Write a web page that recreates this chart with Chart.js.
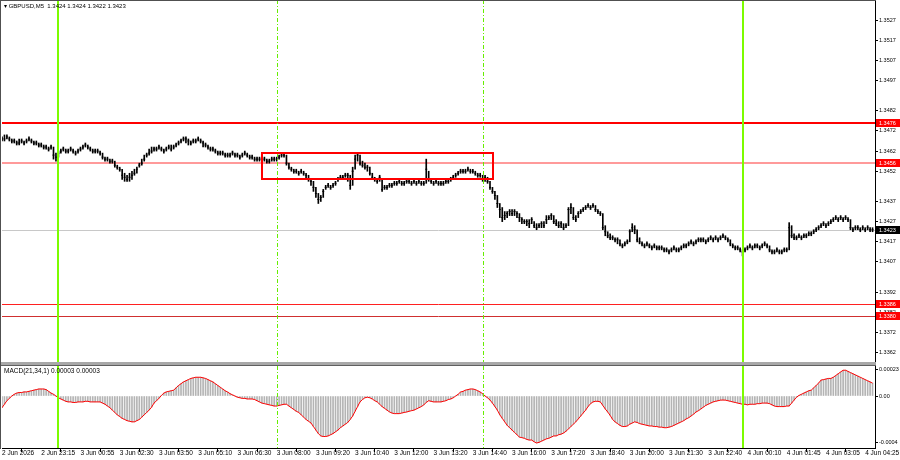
<!DOCTYPE html>
<html>
<head>
<meta charset="utf-8">
<title>GBPUSD M5</title>
<script src="https://cdn.jsdelivr.net/npm/chart.js@4.4.1/dist/chart.umd.min.js"></script>
<style>
  body { margin:0; background:#fff; width:900px; height:460px; overflow:hidden; position:relative; font-family:"Liberation Sans", Arial, sans-serif; }
  canvas { position:absolute; left:0; }
  #price { top:0; }
  #macd { top:362px; }
  .lbl { position:absolute; font-size:6.5px; color:#000; white-space:pre; line-height:8px; }
  #sep { position:absolute; left:0; top:362px; width:876px; height:3px; background:#a8a8a8; border-bottom:1px solid #606060; }
  #frameL { position:absolute; left:0; top:0; width:1px; height:449px; background:#505050; }
  #frameT { position:absolute; left:0; top:0; width:876px; height:1px; background:#505050; }
</style>
</head>
<body>
<canvas id="price" width="900" height="362"></canvas>
<canvas id="macd" width="900" height="98"></canvas>
<div id="sep"></div>
<div id="frameL"></div>
<div id="frameT"></div>
<div class="lbl" style="left:4px;top:2px;font-size:6px">▾ GBPUSD,M5  1.3424 1.3424 1.3422 1.3423</div>
<div class="lbl" style="left:4px;top:367px">MACD(21,34,1) 0.00003 0.00003</div>
<script>
// 5 minute bars, 2 Jun late evening -> 4 Jun 04:40
const highs = [
  1.3469,1.3470,1.3470,1.3469,1.3468,1.3468,1.3467,1.3468,1.3468,1.3467,1.3468,1.3469,1.3468,1.3467,1.3467,1.3466,
  1.3466,1.3465,1.3465,1.3464,1.3465,1.3464,1.3461,1.3462,1.3463,1.3464,1.3463,1.3463,1.3464,1.3463,1.3462,1.3463,
  1.3464,1.3465,1.3466,1.3465,1.3464,1.3463,1.3463,1.3463,1.3462,1.3461,1.3459,1.3459,1.3458,1.3458,1.3457,1.3455,
  1.3454,1.3453,1.3451,1.3450,1.3451,1.3452,1.3453,1.3454,1.3456,1.3458,1.3460,1.3461,1.3463,1.3464,1.3464,1.3464,
  1.3465,1.3464,1.3463,1.3464,1.3465,1.3465,1.3465,1.3466,1.3467,1.3468,1.3469,1.3469,1.3468,1.3467,1.3468,1.3468,
  1.3469,1.3468,1.3467,1.3466,1.3465,1.3464,1.3464,1.3463,1.3462,1.3462,1.3462,1.3461,1.3461,1.3461,1.3462,1.3461,
  1.3461,1.3460,1.3461,1.3462,1.3461,1.3460,1.3460,1.3459,1.3459,1.3459,1.3459,1.3459,1.3458,1.3458,1.3459,1.3459,
  1.3459,1.3460,1.3461,1.3461,1.3460,1.3456,1.3454,1.3453,1.3453,1.3452,1.3453,1.3452,1.3451,1.3450,1.3448,1.3447,
  1.3444,1.3441,1.3440,1.3443,1.3445,1.3446,1.3445,1.3446,1.3447,1.3449,1.3450,1.3450,1.3451,1.3451,1.3450,1.3454,
  1.3460,1.3461,1.3460,1.3457,1.3456,1.3455,1.3454,1.3451,1.3449,1.3448,1.3450,1.3448,1.3445,1.3445,1.3446,1.3446,
  1.3447,1.3447,1.3448,1.3447,1.3447,1.3448,1.3448,1.3447,1.3448,1.3447,1.3448,1.3447,1.3447,1.3458,1.3452,1.3448,
  1.3447,1.3448,1.3447,1.3447,1.3447,1.3448,1.3448,1.3449,1.3450,1.3451,1.3452,1.3453,1.3453,1.3453,1.3454,1.3453,
  1.3453,1.3452,1.3451,1.3451,1.3450,1.3450,1.3449,1.3447,1.3444,1.3442,1.3440,1.3436,1.3434,1.3432,1.3432,1.3433,
  1.3433,1.3433,1.3432,1.3431,1.3429,1.3428,1.3428,1.3428,1.3429,1.3427,1.3426,1.3426,1.3427,1.3427,1.3430,1.3430,
  1.3431,1.3430,1.3428,1.3427,1.3427,1.3426,1.3426,1.3434,1.3436,1.3434,1.3430,1.3432,1.3433,1.3434,1.3435,1.3436,
  1.3435,1.3436,1.3435,1.3433,1.3432,1.3431,1.3425,1.3422,1.3421,1.3420,1.3419,1.3419,1.3418,1.3416,1.3417,1.3418,
  1.3423,1.3426,1.3425,1.3423,1.3419,1.3417,1.3416,1.3417,1.3416,1.3415,1.3416,1.3415,1.3415,1.3415,1.3414,1.3414,
  1.3413,1.3414,1.3415,1.3414,1.3414,1.3415,1.3416,1.3416,1.3417,1.3418,1.3417,1.3418,1.3419,1.3419,1.3419,1.3418,
  1.3419,1.3420,1.3419,1.3420,1.3419,1.3420,1.3421,1.3420,1.3419,1.3418,1.3416,1.3415,1.3415,1.3414,1.3413,1.3414,
  1.3415,1.3416,1.3415,1.3416,1.3416,1.3415,1.3416,1.3417,1.3416,1.3415,1.3413,1.3413,1.3414,1.3413,1.3413,1.3414,
  1.3414,1.34265,1.3425,1.3421,1.3420,1.3421,1.3420,1.3421,1.3421,1.3422,1.3422,1.3423,1.3424,1.3425,1.3426,1.3427,
  1.3426,1.3427,1.3428,1.3429,1.3430,1.3429,1.3430,1.3429,1.3430,1.3429,1.3428,1.3424,1.3425,1.3425,1.3424,1.3425,
  1.3424,1.3425,1.3424,1.3424
];
const lows = [
  1.3467,1.3467,1.3468,1.3467,1.3466,1.3466,1.3465,1.3465,1.3466,1.3465,1.3466,1.3467,1.3466,1.3465,1.3465,1.3464,
  1.3464,1.3463,1.3463,1.3462,1.3463,1.3458,1.3457,1.3459,1.3461,1.3462,1.3461,1.3461,1.3462,1.3461,1.3460,1.3461,
  1.3462,1.3463,1.3464,1.3463,1.3462,1.3461,1.3461,1.3461,1.3460,1.3458,1.3457,1.3457,1.3456,1.3456,1.3454,1.3453,
  1.3452,1.3448,1.3447,1.3447,1.3447,1.3448,1.3450,1.3451,1.3454,1.3455,1.3457,1.3459,1.3460,1.3461,1.3462,1.3462,
  1.3463,1.3462,1.3461,1.3462,1.3463,1.3462,1.3463,1.3464,1.3465,1.3466,1.3467,1.3466,1.3465,1.3465,1.3466,1.3466,
  1.3467,1.3466,1.3464,1.3464,1.3463,1.3462,1.3462,1.3461,1.3460,1.3460,1.3460,1.3459,1.3459,1.3459,1.3460,1.3459,
  1.3459,1.3458,1.3459,1.3460,1.3459,1.3458,1.3458,1.3457,1.3457,1.3457,1.3457,1.3457,1.3456,1.3456,1.3457,1.3457,
  1.3457,1.3458,1.3459,1.3459,1.3455,1.3453,1.3452,1.3451,1.3451,1.3450,1.3451,1.3450,1.3448,1.3447,1.3445,1.3442,
  1.3439,1.3436,1.3437,1.3439,1.3443,1.3444,1.3443,1.3444,1.3445,1.3447,1.3448,1.3448,1.3449,1.3447,1.3443,1.3445,
  1.3453,1.3457,1.3455,1.3454,1.3453,1.3452,1.3450,1.3448,1.3447,1.3446,1.3447,1.3442,1.3443,1.3443,1.3444,1.3444,
  1.3445,1.3445,1.3446,1.3445,1.3445,1.3446,1.3446,1.3445,1.3446,1.3445,1.3446,1.3445,1.3445,1.3446,1.3447,1.3446,
  1.3445,1.3446,1.3445,1.3445,1.3445,1.3446,1.3446,1.3447,1.3448,1.3449,1.3450,1.3451,1.3451,1.3451,1.3452,1.3451,
  1.3451,1.3450,1.3449,1.3449,1.3447,1.3447,1.3446,1.3443,1.3441,1.3438,1.3434,1.3429,1.3427,1.3428,1.3429,1.3430,
  1.3430,1.3430,1.3429,1.3427,1.3426,1.3426,1.3425,1.3424,1.3426,1.3424,1.3423,1.3424,1.3424,1.3424,1.3426,1.3428,
  1.3428,1.3426,1.3425,1.3424,1.3424,1.3423,1.3424,1.3425,1.3431,1.3428,1.3427,1.3429,1.3431,1.3432,1.3433,1.3434,
  1.3433,1.3434,1.3432,1.3431,1.3430,1.3423,1.3420,1.3419,1.3418,1.3418,1.3417,1.3416,1.3415,1.3414,1.3415,1.3416,
  1.3417,1.3422,1.3421,1.3417,1.3416,1.3415,1.3414,1.3415,1.3414,1.3413,1.3414,1.3413,1.3413,1.3413,1.3412,1.3412,
  1.3411,1.3412,1.3413,1.3412,1.3412,1.3413,1.3414,1.3414,1.3415,1.3416,1.3415,1.3416,1.3417,1.3417,1.3417,1.3416,
  1.3417,1.3418,1.3417,1.3418,1.3417,1.3418,1.3419,1.3418,1.3417,1.3415,1.3414,1.3413,1.3413,1.3412,1.3410,1.3412,
  1.3413,1.3414,1.3413,1.3414,1.3414,1.3413,1.3414,1.3415,1.3414,1.3412,1.3411,1.3411,1.3412,1.3411,1.3411,1.3412,
  1.3412,1.3413,1.3419,1.3418,1.3418,1.3419,1.3418,1.3419,1.3419,1.3420,1.3420,1.3421,1.3422,1.3423,1.3424,1.3425,
  1.3424,1.3425,1.3426,1.3427,1.3428,1.3427,1.3428,1.3427,1.3428,1.3427,1.3423,1.3422,1.3423,1.3423,1.3422,1.3423,
  1.3422,1.3423,1.3422,1.3422
];
const closes = [
  1.3468,1.3468,1.3469,1.3468,1.3467,1.3467,1.3466,1.3466,1.3467,1.3466,1.3467,1.3468,1.3467,1.3466,1.3466,1.3465,
  1.3465,1.3464,1.3464,1.3463,1.3464,1.3460,1.3459,1.3461,1.3462,1.3463,1.3462,1.3462,1.3463,1.3462,1.3461,1.3462,
  1.3463,1.3464,1.3465,1.3464,1.3463,1.3462,1.3462,1.3462,1.3461,1.3459,1.3458,1.3458,1.3457,1.3457,1.3455,1.3454,
  1.3453,1.3450,1.3449,1.3448,1.3449,1.3450,1.3451,1.3453,1.3455,1.3456,1.3458,1.3460,1.3461,1.3462,1.3463,1.3463,
  1.3464,1.3463,1.3462,1.3463,1.3464,1.3463,1.3464,1.3465,1.3466,1.3467,1.3468,1.3468,1.3467,1.3466,1.3467,1.3467,
  1.3468,1.3467,1.3466,1.3465,1.3464,1.3463,1.3463,1.3462,1.3461,1.3461,1.3461,1.3460,1.3460,1.3460,1.3461,1.3460,
  1.3460,1.3459,1.3460,1.3461,1.3460,1.3459,1.3459,1.3458,1.3458,1.3458,1.3458,1.3458,1.3457,1.3457,1.3458,1.3458,
  1.3458,1.3459,1.3460,1.3460,1.3456,1.3454,1.3453,1.3452,1.3452,1.3451,1.3452,1.3451,1.3450,1.3448,1.3447,1.3444,
  1.3441,1.3438,1.3439,1.3442,1.3444,1.3445,1.3444,1.3445,1.3446,1.3448,1.3449,1.3449,1.3450,1.3450,1.3445,1.3452,
  1.3458,1.3460,1.3456,1.3455,1.3454,1.3454,1.3451,1.3449,1.3448,1.3447,1.3449,1.3443,1.3444,1.3444,1.3445,1.3445,
  1.3446,1.3446,1.3447,1.3446,1.3446,1.3447,1.3447,1.3446,1.3447,1.3446,1.3447,1.3446,1.3446,1.3453,1.3448,1.3447,
  1.3446,1.3447,1.3446,1.3446,1.3446,1.3447,1.3447,1.3448,1.3449,1.3450,1.3451,1.3452,1.3452,1.3452,1.3453,1.3452,
  1.3452,1.3451,1.3450,1.3450,1.3448,1.3449,1.3447,1.3444,1.3442,1.3440,1.3436,1.3433,1.3429,1.3430,1.3431,1.3432,
  1.3431,1.3432,1.3431,1.3429,1.3428,1.3427,1.3427,1.3426,1.3428,1.3425,1.3424,1.3425,1.3426,1.3425,1.3428,1.3429,
  1.3430,1.3427,1.3426,1.3425,1.3426,1.3424,1.3425,1.3433,1.3434,1.3429,1.3428,1.3431,1.3432,1.3433,1.3434,1.3435,
  1.3434,1.3435,1.3433,1.3432,1.3431,1.3424,1.3422,1.3420,1.3419,1.3419,1.3418,1.3418,1.3416,1.3415,1.3416,1.3417,
  1.3422,1.3424,1.3423,1.3418,1.3417,1.3416,1.3415,1.3416,1.3415,1.3414,1.3415,1.3414,1.3414,1.3414,1.3413,1.3413,
  1.3412,1.3413,1.3414,1.3413,1.3413,1.3414,1.3415,1.3415,1.3416,1.3417,1.3416,1.3417,1.3418,1.3418,1.3418,1.3417,
  1.3418,1.3419,1.3418,1.3419,1.3418,1.3419,1.3420,1.3419,1.3418,1.3416,1.3415,1.3414,1.3414,1.3413,1.3412,1.3413,
  1.3414,1.3415,1.3414,1.3415,1.3415,1.3414,1.3415,1.3416,1.3415,1.3413,1.3412,1.3412,1.3413,1.3412,1.3412,1.3413,
  1.3413,1.3424,1.3420,1.3419,1.3419,1.3420,1.3419,1.3420,1.3420,1.3421,1.3421,1.3422,1.3423,1.3424,1.3425,1.3426,
  1.3425,1.3426,1.3427,1.3428,1.3429,1.3428,1.3429,1.3428,1.3429,1.3428,1.3424,1.3423,1.3424,1.3424,1.3423,1.3424,
  1.3423,1.3424,1.3423,1.3423
];
// MACD(21,34,1) main line, one value per bar
const macd = [
  -10e-5,-7e-5,-4e-5,-2e-5,0,1.5e-5,2.5e-5,3e-5,3e-5,3.5e-5,3.5e-5,4e-5,4.5e-5,5e-5,5.5e-5,6e-5,
  6e-5,6e-5,5.5e-5,4e-5,2.5e-5,1.5e-5,0,-1.5e-5,-2.5e-5,-3.5e-5,-4.5e-5,-5e-5,-5e-5,-5.5e-5,-5.5e-5,-5e-5,
  -5e-5,-5e-5,-4.5e-5,-4.5e-5,-5e-5,-5e-5,-5e-5,-5e-5,-5e-5,-6e-5,-7e-5,-8.5e-5,-10e-5,-12e-5,-14e-5,-16e-5,
  -17.5e-5,-19e-5,-20e-5,-21e-5,-21.5e-5,-22e-5,-22e-5,-21e-5,-20e-5,-18e-5,-16e-5,-14e-5,-12e-5,-9.5e-5,-6e-5,-4e-5,
  -2e-5,0.5e-5,2.5e-5,3.5e-5,4e-5,4.5e-5,5e-5,7e-5,9e-5,10.5e-5,12e-5,13e-5,14e-5,15e-5,15.5e-5,16e-5,
  16e-5,16e-5,15.5e-5,15e-5,14e-5,13e-5,12e-5,10.5e-5,9e-5,7.5e-5,6e-5,4.5e-5,3.4e-5,2e-5,1e-5,0,
  -1e-5,-1.5e-5,-2e-5,-2e-5,-2.5e-5,-2.5e-5,-2.5e-5,-3e-5,-4e-5,-5e-5,-6e-5,-6.5e-5,-7e-5,-7.5e-5,-8e-5,-8.5e-5,
  -8.5e-5,-8e-5,-7.5e-5,-7e-5,-7e-5,-8.5e-5,-10e-5,-11.5e-5,-13e-5,-14e-5,-16e-5,-18e-5,-20e-5,-21.5e-5,-23e-5,-26e-5,
  -29e-5,-32e-5,-34e-5,-34.5e-5,-34.5e-5,-34e-5,-33e-5,-32e-5,-30.5e-5,-29e-5,-27e-5,-25.5e-5,-24e-5,-22.5e-5,-20e-5,-17e-5,
  -13e-5,-9e-5,-5e-5,-3e-5,-1.5e-5,-1e-5,-1.5e-5,-2.5e-5,-4e-5,-5e-5,-7e-5,-9e-5,-10.5e-5,-12e-5,-13.5e-5,-14.5e-5,
  -15e-5,-15e-5,-15e-5,-14.5e-5,-14e-5,-13.6e-5,-13e-5,-12.5e-5,-12e-5,-11e-5,-10e-5,-9e-5,-7.5e-5,-5.5e-5,-4e-5,-4.5e-5,
  -5e-5,-5e-5,-5e-5,-5e-5,-4.5e-5,-4e-5,-3e-5,-2.5e-5,-1.5e-5,0,1.5e-5,3.4e-5,4e-5,5e-5,5.5e-5,6e-5,
  6e-5,5.5e-5,4.5e-5,3.4e-5,2e-5,0,-1.5e-5,-3.4e-5,-6e-5,-9e-5,-12e-5,-16e-5,-19e-5,-22e-5,-25e-5,-27e-5,
  -29e-5,-31e-5,-33e-5,-35e-5,-35.5e-5,-36e-5,-37e-5,-37.5e-5,-37.5e-5,-39e-5,-40e-5,-39.5e-5,-38.5e-5,-37.5e-5,-36.5e-5,-36e-5,
  -35e-5,-34e-5,-34e-5,-33e-5,-32.5e-5,-31.5e-5,-30e-5,-28e-5,-26e-5,-24e-5,-22e-5,-19.5e-5,-17e-5,-14.5e-5,-12e-5,-9e-5,
  -6.5e-5,-5e-5,-4.5e-5,-4.5e-5,-5e-5,-8e-5,-11e-5,-13.6e-5,-16.5e-5,-20e-5,-22e-5,-23.5e-5,-25e-5,-26e-5,-26e-5,-25.5e-5,
  -24e-5,-23e-5,-22e-5,-22.5e-5,-23.5e-5,-24e-5,-24.5e-5,-25e-5,-25.5e-5,-25.5e-5,-26e-5,-26e-5,-26.5e-5,-26.5e-5,-27e-5,-27e-5,
  -26.5e-5,-26e-5,-25e-5,-24e-5,-23e-5,-22e-5,-21e-5,-19.5e-5,-18.5e-5,-17e-5,-15.5e-5,-13.6e-5,-12.5e-5,-11e-5,-9.5e-5,-8e-5,
  -7e-5,-6e-5,-5e-5,-4.5e-5,-4e-5,-3.5e-5,-3.4e-5,-3.5e-5,-4e-5,-4.5e-5,-5e-5,-5.5e-5,-6e-5,-6.5e-5,-7e-5,-7e-5,
  -7.5e-5,-7e-5,-7e-5,-7e-5,-6.5e-5,-6.5e-5,-6e-5,-6e-5,-6e-5,-6.5e-5,-7.5e-5,-8.5e-5,-9e-5,-9e-5,-9e-5,-9e-5,
  -8.5e-5,-8.5e-5,-6e-5,-3.5e-5,-1e-5,0.5e-5,1.5e-5,2.5e-5,3.5e-5,4.5e-5,5e-5,7e-5,9e-5,11e-5,13.6e-5,14e-5,
  14.5e-5,15e-5,15e-5,16e-5,17.5e-5,19e-5,20.5e-5,22e-5,22e-5,21e-5,20e-5,19e-5,18e-5,17e-5,16e-5,15e-5,
  14e-5,13e-5,12e-5,11e-5
];

// time axis labels, one every 16 bars
const timeTicks = ['2 Jun 2026','2 Jun 23:15','3 Jun 00:55','3 Jun 02:30','3 Jun 03:50','3 Jun 05:10',
  '3 Jun 06:30','3 Jun 08:00','3 Jun 09:20','3 Jun 10:40','3 Jun 12:00','3 Jun 13:20','3 Jun 14:40',
  '3 Jun 16:00','3 Jun 17:20','3 Jun 18:40','3 Jun 20:00','3 Jun 21:30','3 Jun 22:40','4 Jun 00:10',
  '4 Jun 01:45','4 Jun 03:05','4 Jun 04:25'];
const priceTicks = [1.3527,1.3517,1.3507,1.3497,1.3482,1.3472,1.3462,1.3452,1.3437,1.3427,1.3417,1.3407,1.3392,1.3382,1.3372,1.3362];
const macdTicks = [0.00023, 0, -0.0004];
const macdTickLabels = ['0.00023', '0.00', '-0.0004'];

// levels and markers
const levelPrices = [1.3476, 1.3456, 1.3386, 1.3380];
const lastPrice = 1.3423;
const solidLineBars = [23, 302];
const dashLineBars = [112, 196];
const boxBars = [106, 200];
const boxPrices = [1.3461, 1.3448];

Chart.defaults.font.family = "'Liberation Sans', Arial, sans-serif";
Chart.defaults.color = '#000';

const overlay = {
  id: 'overlay',
  beforeDatasetsDraw(chart, args, o) {
    const {ctx, chartArea: a, scales: {y}} = chart;
    ctx.save();
    (o.hLines || []).forEach(l => {
      const py = Math.round(y.getPixelForValue(l.value)) + (l.width % 2 ? 0.5 : 0);
      ctx.strokeStyle = l.color;
      ctx.lineWidth = l.width;
      ctx.beginPath();
      ctx.moveTo(a.left, py);
      ctx.lineTo(a.right, py);
      ctx.stroke();
    });
    ctx.restore();
  },
  afterDatasetsDraw(chart, args, o) {
    const {ctx, chartArea: a, scales: {x, y}} = chart;
    ctx.save();
    solidLineBars.forEach(b => {
      const px = Math.round(x.getPixelForValue(b));
      ctx.strokeStyle = '#7cfc00';
      ctx.lineWidth = 2;
      ctx.beginPath();
      ctx.moveTo(px, a.top);
      ctx.lineTo(px, a.bottom);
      ctx.stroke();
    });
    dashLineBars.forEach(b => {
      const px = Math.round(x.getPixelForValue(b)) + 0.5;
      ctx.strokeStyle = '#66ee00';
      ctx.lineWidth = 1;
      ctx.setLineDash([4, 2, 1, 2]);
      ctx.beginPath();
      ctx.moveTo(px, a.top);
      ctx.lineTo(px, a.bottom);
      ctx.stroke();
    });
    ctx.setLineDash([]);
    if (o.box) {
      const x1 = x.getPixelForValue(boxBars[0]), x2 = x.getPixelForValue(boxBars[1]);
      const y1 = y.getPixelForValue(boxPrices[0]), y2 = y.getPixelForValue(boxPrices[1]);
      ctx.strokeStyle = '#ff0000';
      ctx.lineWidth = 2;
      ctx.strokeRect(Math.round(x1), Math.round(y1), Math.round(x2 - x1), Math.round(y2 - y1));
    }
    ctx.restore();
  },
  afterDraw(chart, args, o) {
    const {ctx, chartArea: a, scales: {y}} = chart;
    ctx.save();
    ctx.font = "5.5px 'Liberation Sans', Arial, sans-serif";
    ctx.textBaseline = 'middle';
    (o.hLines || []).filter(l => l.tag).forEach(l => {
      const py = Math.round(y.getPixelForValue(l.value));
      ctx.fillStyle = l.tag;
      ctx.fillRect(a.right + 1, py - 4, 900 - a.right, 8);
      ctx.fillStyle = '#fff';
      ctx.fillText(l.value.toFixed(4), a.right + 4, py + 0.5);
    });
    ctx.restore();
  }
};

const fitY = s => { s.width = 25; s.paddingTop = 0; s.paddingBottom = 0; };

new Chart(document.getElementById('price'), {
  type: 'bar',
  data: {
    datasets: [
      {
        type: 'line',
        data: closes.map((c, i) => ({x: i, y: c})),
        showLine: false,
        pointStyle: 'line',
        pointRadius: 1,
        borderColor: '#000',
        borderWidth: 1,
        order: 1
      },
      {
        data: highs.map((h, i) => ({x: i, y: [lows[i], h]})),
        backgroundColor: '#000',
        barThickness: 1,
        order: 2
      }
    ]
  },
  options: {
    responsive: false,
    animation: false,
    devicePixelRatio: 1,
    layout: {autoPadding: false, padding: {left: 2, top: 0, right: 0, bottom: 0}},
    plugins: {
      legend: {display: false},
      tooltip: {enabled: false},
      overlay: {
        box: true,
        hLines: [
          {value: lastPrice, color: '#c8c8c8', width: 1, tag: '#000'},
          {value: levelPrices[0], color: '#ff0000', width: 2, tag: '#ff0000'},
          {value: levelPrices[1], color: '#ff9a9a', width: 2, tag: '#ff0000'},
          {value: levelPrices[2], color: '#ff2020', width: 1, tag: '#ff0000'},
          {value: levelPrices[3], color: '#d03030', width: 1, tag: '#ff0000'}
        ]
      }
    },
    scales: {
      x: {type: 'linear', min: 0, max: 356, offset: false, display: false},
      y: {
        position: 'right',
        min: 1.335739,
        max: 1.353692,
        afterBuildTicks: s => { s.ticks = priceTicks.map(v => ({value: v})); },
        afterFit: fitY,
        grid: {drawOnChartArea: false, drawTicks: true, tickLength: 3, color: '#000'},
        border: {display: true, color: '#000'},
        ticks: {font: {size: 5.5, lineHeight: 0}, padding: 1, callback: v => v.toFixed(4)}
      }
    }
  },
  plugins: [overlay]
});

new Chart(document.getElementById('macd'), {
  type: 'bar',
  data: {
    datasets: [
      {
        type: 'line',
        data: macd.map((v, i) => ({x: i, y: v})),
        borderColor: '#ff0000',
        borderWidth: 1,
        pointRadius: 0,
        tension: 0,
        order: 1
      },
      {
        data: macd.map((v, i) => ({x: i, y: v})),
        backgroundColor: '#b4b4b4',
        barThickness: 1,
        order: 2
      }
    ]
  },
  options: {
    responsive: false,
    animation: false,
    devicePixelRatio: 1,
    layout: {autoPadding: false, padding: {left: 2, top: 4, right: 0, bottom: 0}},
    plugins: {legend: {display: false}, tooltip: {enabled: false}, overlay: {}},
    scales: {
      x: {
        type: 'linear', min: 0, max: 356, offset: false,
        afterBuildTicks: s => { s.ticks = timeTicks.map((t, k) => ({value: k * 16})); },
        afterFit: s => { s.height = 12; s.paddingLeft = 0; s.paddingRight = 0; },
        grid: {drawOnChartArea: false, drawTicks: true, tickLength: 4, color: '#000'},
        border: {display: true, color: '#000'},
        ticks: {font: {size: 6.5}, padding: -3, align: 'start', maxRotation: 0, autoSkip: false,
          callback: v => timeTicks[v / 16]}
      },
      y: {
        position: 'right',
        min: -0.000443,
        max: 0.000256,
        afterBuildTicks: s => { s.ticks = macdTicks.map(v => ({value: v})); },
        afterFit: fitY,
        grid: {drawOnChartArea: false, drawTicks: true, tickLength: 3, color: '#000'},
        border: {display: true, color: '#000'},
        ticks: {font: {size: 5.5, lineHeight: 0}, padding: 1, callback: v => macdTickLabels[macdTicks.indexOf(v)]}
      }
    }
  },
  plugins: [overlay]
});
</script>
</body>
</html>
